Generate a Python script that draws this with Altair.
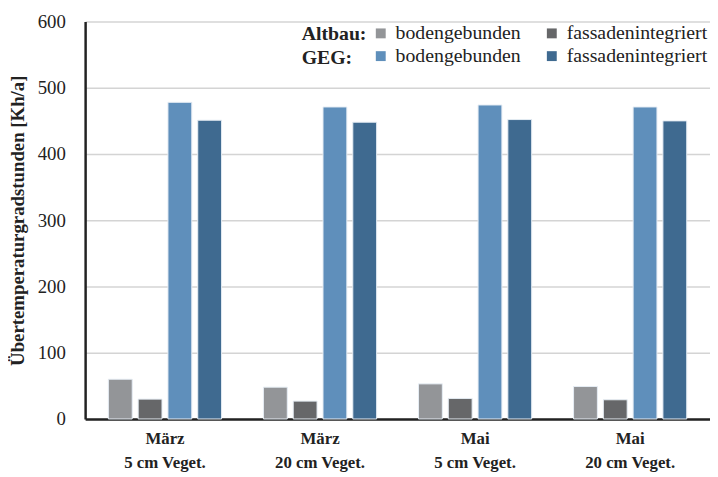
import altair as alt
import pandas as pd

categories = ["März|5 cm Veget.", "März|20 cm Veget.", "Mai|5 cm Veget.", "Mai|20 cm Veget."]
series = ["Altbau bodengebunden", "Altbau fassadenintegriert", "GEG bodengebunden", "GEG fassadenintegriert"]
altbau_boden = [60, 48, 53, 49]
altbau_fassade = [30, 27, 31, 29]
geg_boden = [478, 471, 474, 471]
geg_fassade = [451, 448, 452, 450]
colors = ["#939598", "#666769", "#5f8fbb", "#3f6a90"]
row_labels = ["Altbau:", "GEG:"]
y_ticks = [0, 100, 200, 300, 400, 500, 600]

rows = []
for s, vals in zip(series, [altbau_boden, altbau_fassade, geg_boden, geg_fassade]):
    for c, v in zip(categories, vals):
        rows.append({"Kategorie": c, "Serie": s, "Wert": v})
df = pd.DataFrame(rows)

FONT = "Liberation Serif"

bars = alt.Chart(df).mark_bar(stroke="#e6edf4", strokeWidth=1).encode(
    x=alt.X("Kategorie:N", sort=categories, title=None,
            scale=alt.Scale(paddingInner=0.27, paddingOuter=0.15),
            axis=alt.Axis(labelExpr="split(datum.label, '|')", labelAngle=0,
                          labelFont=FONT, labelFontSize=17, labelFontWeight="bold",
                          labelColor="#222", labelPadding=12, labelLineHeight=24,
                          ticks=False, domainColor="#222", domainWidth=2.5)),
    xOffset=alt.XOffset("Serie:N", sort=series, scale=alt.Scale(paddingInner=0.2)),
    y=alt.Y("Wert:Q", title="Übertemperaturgradstunden [Kh/a]",
            scale=alt.Scale(domain=[0, 600]),
            axis=alt.Axis(values=y_ticks, ticks=False, labelPadding=20,
                          labelFont=FONT, labelFontSize=19, labelColor="#222",
                          titleFont=FONT, titleFontSize=19, titleFontWeight="bold",
                          titleColor="#222", titlePadding=10,
                          domainColor="#222", domainWidth=2.5,
                          gridColor="#d4d4d4", gridWidth=1.5)),
    color=alt.Color("Serie:N", sort=series,
                    scale=alt.Scale(domain=series, range=colors),
                    legend=alt.Legend(title=None, orient="none", legendX=289, legendY=2,
                                      direction="horizontal",
                                      columns=2, columnPadding=21, rowPadding=3,
                                      symbolType="square", symbolSize=100,
                                      symbolStrokeWidth=0, labelOffset=5,
                                      labelExpr="split(datum.label, ' ')[1]",
                                      labelFont=FONT, labelFontSize=20,
                                      labelColor="#222", padding=0)),
)

legend_rows = pd.DataFrame({"t": row_labels, "r": [0, 1]})
row_text = alt.Chart(legend_rows).mark_text(
    align="left", baseline="middle", font=FONT, fontSize=20,
    fontWeight="bold", color="#222"
).encode(
    text="t:N",
    x=alt.value(219),
    y=alt.Y("r:O", axis=None, scale=alt.Scale(range=[13, 37], padding=0)),
)

chart = alt.layer(bars, row_text).resolve_scale(y="independent").properties(
    width=710, height=469,
    autosize=alt.AutoSizeParams(type="fit", contains="padding"),
    padding={"left": 0, "top": 2, "right": 0, "bottom": 4}
).configure_view(stroke=None)

chart.save("out.html", embed_options={"renderer": "svg", "actions": False})
